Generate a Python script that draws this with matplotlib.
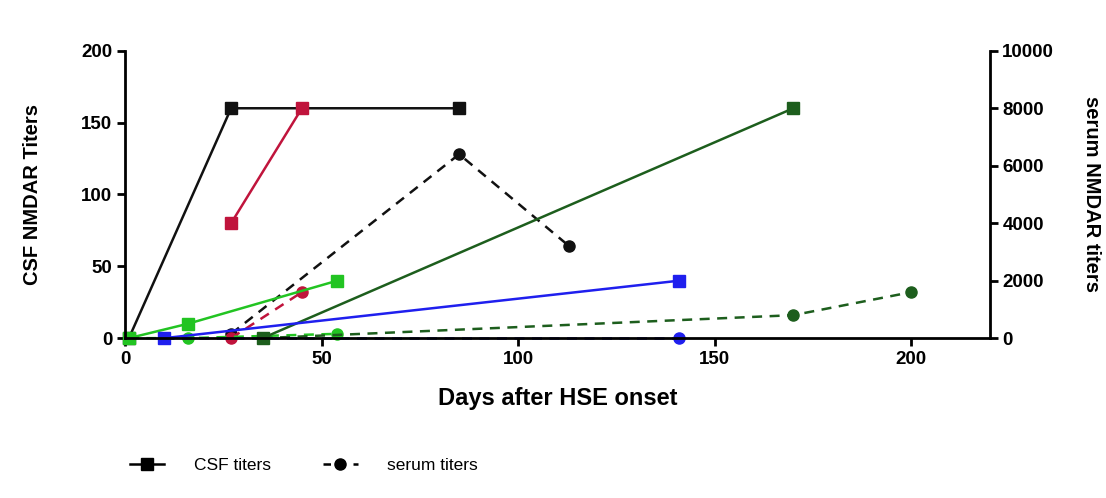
import matplotlib
matplotlib.use("Agg")
import matplotlib.pyplot as plt
from matplotlib.lines import Line2D

plt.rcParams['font.family'] = ['Liberation Sans', 'DejaVu Sans']
plt.rcParams['font.weight'] = 'bold'
plt.rcParams['axes.labelweight'] = 'bold'

# CSF titers (left axis), per patient
csf_black_days = [1, 27, 85]
csf_black = [0, 160, 160]
csf_red_days = [27, 45]
csf_red = [80, 160]
csf_lgreen_days = [1, 16, 54]
csf_lgreen = [0, 10, 40]
csf_dgreen_days = [35, 170]
csf_dgreen = [0, 160]
csf_blue_days = [10, 141]
csf_blue = [0, 40]

# serum titers (right axis), per patient
ser_black_days = [27, 85, 113]
ser_black = [150, 6400, 3200]
ser_red_days = [27, 45]
ser_red = [0, 1600]
ser_lgreen_days = [1, 16, 54]
ser_lgreen = [0, 0, 150]
ser_dgreen_days = [35, 170, 200]
ser_dgreen = [0, 800, 1600]
ser_blue_days = [10, 141]
ser_blue = [0, 0]

colors = {'black': '#111111', 'red': '#c0143c', 'lgreen': '#22c422',
          'dgreen': '#1d5e1d', 'blue': '#1f1fee'}

fig = plt.figure(figsize=(11.06, 4.98), dpi=100)
ax = fig.add_axes([0.113, 0.321, 0.782, 0.577])
ax2 = ax.twinx()

csf = [(csf_black_days, csf_black, 'black'), (csf_red_days, csf_red, 'red'),
       (csf_lgreen_days, csf_lgreen, 'lgreen'), (csf_dgreen_days, csf_dgreen, 'dgreen'),
       (csf_blue_days, csf_blue, 'blue')]
ser = [(ser_black_days, ser_black, 'black'), (ser_red_days, ser_red, 'red'),
       (ser_lgreen_days, ser_lgreen, 'lgreen'), (ser_dgreen_days, ser_dgreen, 'dgreen'),
       (ser_blue_days, ser_blue, 'blue')]

for d, v, c in ser:
    ax2.plot(d, v, color=colors[c], ls=(0, (4, 3)), lw=1.8, marker='o', ms=8, clip_on=False)
for d, v, c in csf:
    ax.plot(d, v, color=colors[c], ls='-', lw=1.8, marker='s', ms=8, clip_on=False)

ax.set_zorder(2)
ax.patch.set_visible(False)

ax.set_xlim(0, 220)
ax.set_ylim(0, 200)
ax2.set_ylim(0, 10000)
ax.set_xticks([0, 50, 100, 150, 200])
ax.set_yticks([0, 50, 100, 150, 200])
ax2.set_yticks([0, 2000, 4000, 6000, 8000, 10000])

for a in (ax, ax2):
    a.spines['top'].set_visible(False)
    for s in ('left', 'right', 'bottom'):
        a.spines[s].set_linewidth(2)
    a.tick_params(width=2, length=6, labelsize=13.5, direction='out', pad=3)
ax.spines['right'].set_visible(False)
ax2.spines['left'].set_visible(False)
ax2.spines['bottom'].set_visible(False)

ax.set_xlabel('Days after HSE onset', fontsize=17, labelpad=14)
ax.set_ylabel('CSF NMDAR Titers', fontsize=14.5, labelpad=28)
ax2.set_ylabel('serum NMDAR titers', fontsize=14.5, rotation=-90, labelpad=34)

handles = [Line2D([], [], color='black', lw=1.8, marker='s', ms=8),
           Line2D([], [], color='black', lw=1.8, ls=(0, (3, 3)), marker='o', ms=8)]
fig.legend(handles, ['CSF titers', 'serum titers'], loc='center left',
           bbox_to_anchor=(0.103, 0.065), ncol=2, frameon=False,
           prop={'size': 12.5, 'weight': 'normal'},
           handlelength=2, handletextpad=1.7, columnspacing=3)

fig.savefig('out.png', dpi=100)
